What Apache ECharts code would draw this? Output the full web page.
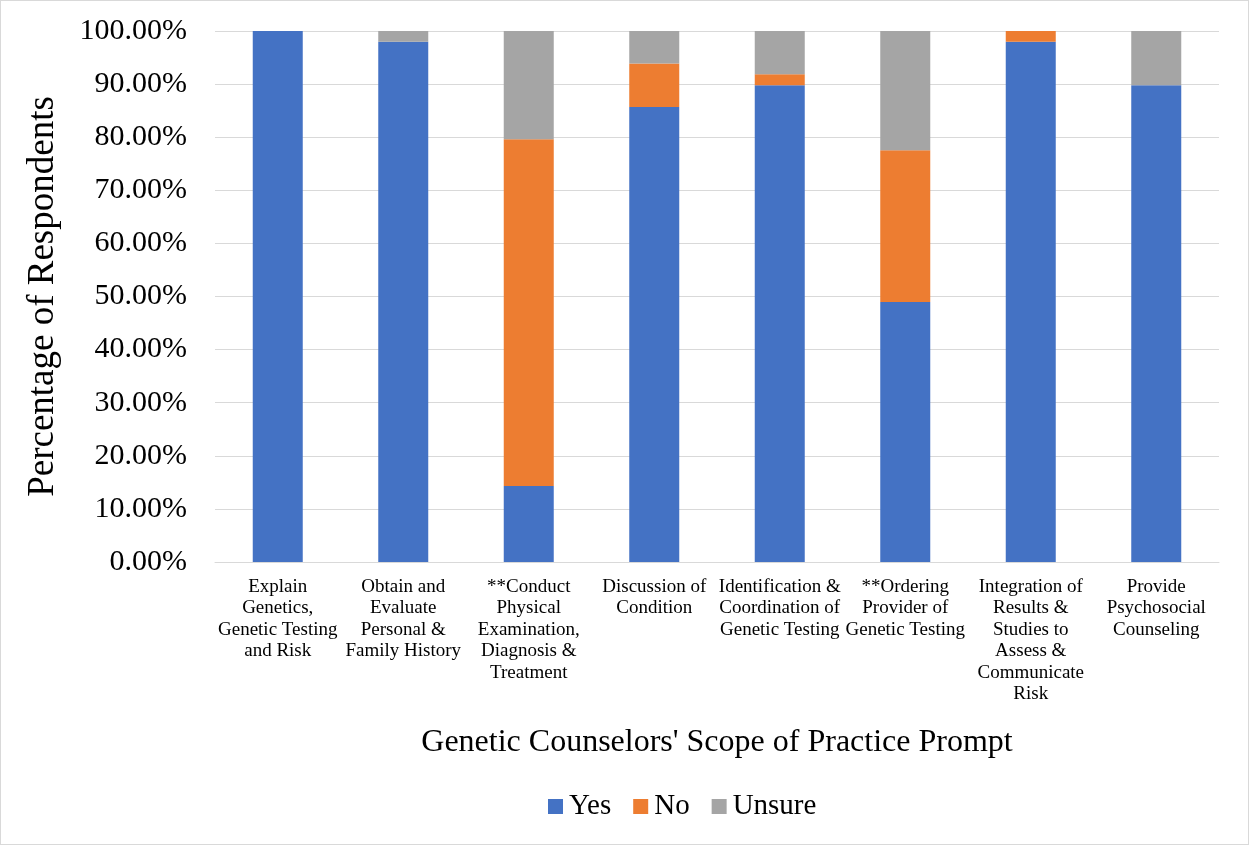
<!DOCTYPE html>
<html>
<head>
<meta charset="utf-8">
<script src="https://cdn.jsdelivr.net/npm/echarts@6/dist/echarts.min.js"></script>
<style>
  html, body { margin: 0; padding: 0; background: #fff; }
  #chart { width: 1249px; height: 845px; box-sizing: border-box; border: 1px solid #d9d9d9; }
</style>
</head>
<body>
<div id="chart"></div>
<script>
// Scope-of-practice prompts (line breaks as set in the axis labels)
const categories = [
  'Explain\nGenetics,\nGenetic Testing\nand Risk',
  'Obtain and\nEvaluate\nPersonal &\nFamily History',
  '**Conduct\nPhysical\nExamination,\nDiagnosis &\nTreatment',
  'Discussion of\nCondition',
  'Identification &\nCoordination of\nGenetic Testing',
  '**Ordering\nProvider of\nGenetic Testing',
  'Integration of\nResults &\nStudies to\nAssess &\nCommunicate\nRisk',
  'Provide\nPsychosocial\nCounseling'
];

// Percent of respondents per answer
const yesValues    = [100.00, 97.96, 14.29, 85.71, 89.80, 48.98, 97.96, 89.80];
const noValues     = [0.00, 0.00, 65.31, 8.16, 2.04, 28.57, 2.04, 0.00];
const unsureValues = [0.00, 2.04, 20.41, 6.12, 8.16, 22.45, 0.00, 10.20];

const seriesNames = ['Yes', 'No', 'Unsure'];
const seriesColors = ['#4472c4', '#ed7d31', '#a5a5a5'];

const FONT = '"Liberation Serif", "Times New Roman", serif';

const chart = echarts.init(document.getElementById('chart'), null, { renderer: 'canvas' });

const mk = (name, data, color) => ({
  name: name,
  type: 'bar',
  stack: 'total',
  data: data,
  barWidth: 50,
  itemStyle: { color: color },
  emphasis: { disabled: true }
});

chart.setOption({
  animation: false,
  textStyle: { fontFamily: FONT },
  grid: { left: 214, right: 29, top: 30, bottom: 282, containLabel: false },
  legend: {
    data: seriesNames,
    left: 542,
    top: 786,
    itemWidth: 15,
    itemHeight: 15,
    itemGap: 22,
    icon: 'rect',
    textStyle: { fontFamily: FONT, fontSize: 29, color: '#000', padding: [0, 0, 0, 1] }
  },
  xAxis: {
    type: 'category',
    data: categories,
    name: "Genetic Counselors' Scope of Practice Prompt",
    nameLocation: 'middle',
    nameGap: 165,
    nameTextStyle: { fontFamily: FONT, fontSize: 32, color: '#000' },
    axisLine: { show: true, lineStyle: { color: '#d9d9d9', width: 1 } },
    axisTick: { show: false },
    axisLabel: {
      interval: 0,
      margin: 14,
      fontFamily: FONT,
      fontSize: 19,
      lineHeight: 21.5,
      color: '#000',
      align: 'center',
      verticalAlign: 'top'
    }
  },
  yAxis: {
    type: 'value',
    min: 0,
    max: 100,
    interval: 10,
    name: 'Percentage of Respondents',
    nameLocation: 'middle',
    nameGap: 153,
    nameTextStyle: { fontFamily: FONT, fontSize: 37, color: '#000' },
    axisLine: { show: false },
    axisTick: { show: false },
    splitLine: { lineStyle: { color: '#d9d9d9', width: 1 } },
    axisLabel: {
      margin: 28,
      fontFamily: FONT,
      fontSize: 30,
      color: '#000',
      formatter: v => v.toFixed(2) + '%'
    }
  },
  series: [
    mk(seriesNames[0], yesValues, seriesColors[0]),
    mk(seriesNames[1], noValues, seriesColors[1]),
    mk(seriesNames[2], unsureValues, seriesColors[2])
  ]
});
</script>
</body>
</html>
